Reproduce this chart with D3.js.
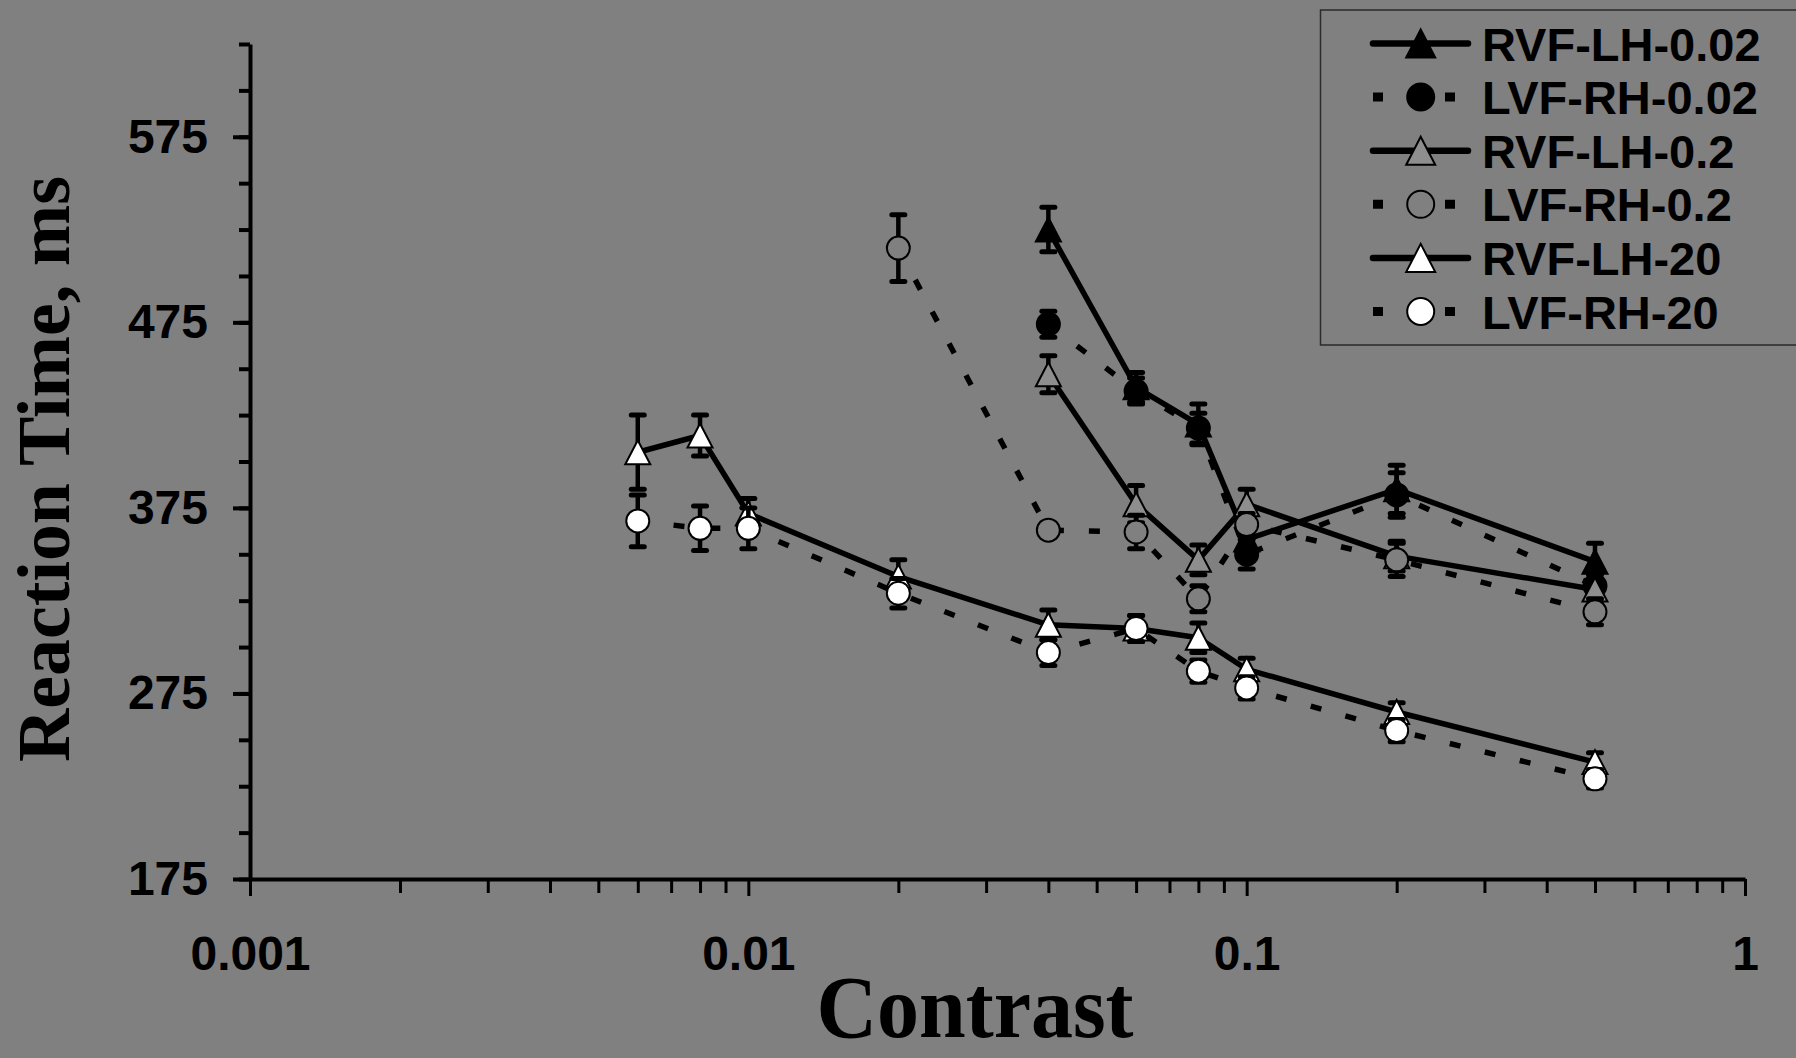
<!DOCTYPE html>
<html>
<head>
<meta charset="utf-8">
<script src="https://cdn.jsdelivr.net/npm/d3@7"></script>
<style>
  body { margin: 0; background: #808080; }
  svg { display: block; }
</style>
</head>
<body>
<div id="chart"></div>
<script>
// Contrast levels tested for each spatial frequency
const contrast20 = [0.006, 0.008, 0.01, 0.02, 0.04, 0.06, 0.08, 0.1, 0.2, 0.5];
const contrastLvf02 = [0.02, 0.04, 0.06, 0.08, 0.1, 0.2, 0.5];
const contrast002 = [0.04, 0.06, 0.08, 0.1, 0.2, 0.5];

// Mean reaction times (ms) and error bar half-widths
const rvf002 = [525, 440, 420, 358, 385, 346];
const rvf002Err = [12, 8, 11, 8, 13, 10];
const lvf002 = [474, 438, 418, 350, 382, 333];
const lvf002Err = [7, 7, 8, 8, 12, 8];
const rvf02 = [447, 377, 347, 377, 349, 331];
const rvf02Err = [10, 10, 8, 8, 8, 8];
const lvf02 = [515, 363, 362, 326, 366, 347, 319];
const lvf02Err = [18, 4, 9, 7, 6, 9, 7];
const rvf20 = [405, 414, 372, 338, 312, 310, 305, 288, 265, 238];
const rvf20Err = [20, 11, 8, 9, 8, 7, 8, 6, 5, 5];
const lvf20 = [368, 364, 364, 329, 297, 310, 287, 278, 255, 229];
const lvf20Err = [14, 12, 11, 8, 7, 7, 6, 6, 6, 5];

const seriesNames = ["RVF-LH-0.02", "LVF-RH-0.02", "RVF-LH-0.2", "LVF-RH-0.2", "RVF-LH-20", "LVF-RH-20"];
const xTickLabels = ["0.001", "0.01", "0.1", "1"];
const yTickValues = [175, 275, 375, 475, 575];

const series = [
    { name: seriesNames[0], xs: contrast002, ys: rvf002, err: rvf002Err, shape: "triangle", fill: "#000", dashed: false },
    { name: seriesNames[1], xs: contrast002, ys: lvf002, err: lvf002Err, shape: "circle", fill: "#000", dashed: true },
    { name: seriesNames[2], xs: contrast002, ys: rvf02, err: rvf02Err, shape: "triangle", fill: "#8e8e8e", dashed: false },
    { name: seriesNames[3], xs: contrastLvf02, ys: lvf02, err: lvf02Err, shape: "circle", fill: "#808080", dashed: true },
    { name: seriesNames[4], xs: contrast20, ys: rvf20, err: rvf20Err, shape: "triangle", fill: "#fff", dashed: false },
    { name: seriesNames[5], xs: contrast20, ys: lvf20, err: lvf20Err, shape: "circle", fill: "#fff", dashed: true }
];

const width = 1796, height = 1058;

const svg = d3.select("#chart")
    .append("svg")
    .attr("width", width)
    .attr("height", height);

svg.append("rect")
    .attr("width", width)
    .attr("height", height)
    .attr("fill", "#808080");

// Scales
const x = d3.scaleLog()
    .domain([0.001, 1])
    .range([250, 1745]);

const y = d3.scaleLinear()
    .domain([175, 625])
    .range([879, 44]);

const tickFont = "'Liberation Sans', Arial, sans-serif";

// Y axis: minor ticks every 25, labelled majors every 100
svg.append("g")
    .attr("transform", `translate(${x.range()[0]},0)`)
    .call(d3.axisLeft(y).tickValues(d3.range(175, 626, 25)).tickSize(11).tickSizeOuter(0).tickFormat(""))
    .call(g => g.select(".domain").attr("stroke", "#000").attr("stroke-width", 4))
    .call(g => g.selectAll(".tick line").attr("stroke", "#000").attr("stroke-width", 4));

svg.append("g")
    .attr("transform", `translate(${x.range()[0]},0)`)
    .call(d3.axisLeft(y).tickValues(yTickValues).tickSize(17).tickSizeOuter(0).tickPadding(25))
    .call(g => g.select(".domain").remove())
    .call(g => g.selectAll(".tick line").attr("stroke", "#000").attr("stroke-width", 4))
    .call(g => g.selectAll(".tick text")
        .attr("fill", "#000")
        .style("font-family", tickFont)
        .style("font-weight", "bold")
        .style("font-size", "48px"));

// X axis: log decades with minor ticks at 2..9
const minorX = [];
[0.001, 0.01, 0.1].forEach(d => {
    for (let k = 2; k <= 9; k++) minorX.push(d * k);
});

svg.append("g")
    .attr("transform", `translate(0,${y.range()[0]})`)
    .call(d3.axisBottom(x).tickValues(minorX).tickSize(14).tickSizeOuter(0).tickFormat(""))
    .call(g => g.select(".domain").remove())
    .call(g => g.selectAll(".tick line").attr("stroke", "#000").attr("stroke-width", 3));

svg.append("g")
    .attr("transform", `translate(0,${y.range()[0]})`)
    .call(d3.axisBottom(x).tickValues([0.001, 0.01, 0.1, 1]).tickSize(17).tickSizeOuter(0).tickPadding(40)
        .tickFormat((d, i) => xTickLabels[i]))
    .call(g => g.select(".domain").attr("stroke", "#000").attr("stroke-width", 4))
    .call(g => g.selectAll(".tick line").attr("stroke", "#000").attr("stroke-width", 3))
    .call(g => g.selectAll(".tick text")
        .attr("fill", "#000")
        .style("font-family", tickFont)
        .style("font-weight", "bold")
        .style("font-size", "48px"));

// Axis titles
svg.append("text")
    .attr("transform", "translate(69,469) rotate(-90)")
    .attr("text-anchor", "middle")
    .attr("textLength", 586)
    .attr("lengthAdjust", "spacingAndGlyphs")
    .style("font-family", "'Liberation Serif', 'Times New Roman', serif")
    .style("font-weight", "bold")
    .style("font-size", "75px")
    .text("Reaction Time, ms");

svg.append("text")
    .attr("x", 975)
    .attr("y", 1037)
    .attr("text-anchor", "middle")
    .attr("textLength", 317)
    .attr("lengthAdjust", "spacingAndGlyphs")
    .style("font-family", "'Liberation Serif', 'Times New Roman', serif")
    .style("font-weight", "bold")
    .style("font-size", "88px")
    .text("Contrast");

// Marker path helpers
function trianglePath(cx, cy, w, h) {
    return `M${cx},${cy - h / 2}L${cx + w / 2},${cy + h / 2}L${cx - w / 2},${cy + h / 2}Z`;
}

function drawMarker(g, shape, cx, cy, fill, big) {
    if (shape === "triangle") {
        g.append("path")
            .attr("d", big ? trianglePath(cx, cy, 29, 28) : trianglePath(cx, cy, 25, 24))
            .attr("fill", fill)
            .attr("stroke", "#000")
            .attr("stroke-width", 2)
            .attr("stroke-linejoin", "miter");
    } else {
        g.append("circle")
            .attr("cx", cx)
            .attr("cy", cy)
            .attr("r", big ? 13.5 : 11.5)
            .attr("fill", fill)
            .attr("stroke", "#000")
            .attr("stroke-width", 2);
    }
}

const line = d3.line()
    .x(d => x(d.c))
    .y(d => y(d.v));

// Series: line, error bars, then markers
series.forEach(s => {
    const pts = s.xs.map((c, i) => ({ c: c, v: s.ys[i], e: s.err[i] }));
    const g = svg.append("g");

    g.append("path")
        .datum(pts)
        .attr("fill", "none")
        .attr("stroke", "#000")
        .attr("stroke-width", 5.5)
        .attr("stroke-dasharray", s.dashed ? "11,25" : null)
        .attr("stroke-linejoin", "round")
        .attr("d", line);

    const eb = g.selectAll(".err")
        .data(pts)
        .enter()
        .append("g");

    eb.append("line")
        .attr("x1", d => x(d.c))
        .attr("x2", d => x(d.c))
        .attr("y1", d => y(d.v + d.e))
        .attr("y2", d => y(d.v - d.e))
        .attr("stroke", "#000")
        .attr("stroke-width", 4.5);

    [1, -1].forEach(sign => {
        eb.append("line")
            .attr("x1", d => x(d.c) - 6.5)
            .attr("x2", d => x(d.c) + 6.5)
            .attr("y1", d => y(d.v + sign * d.e))
            .attr("y2", d => y(d.v + sign * d.e))
            .attr("stroke", "#000")
            .attr("stroke-width", 5)
            .attr("stroke-linecap", "round");
    });

    pts.forEach(d => drawMarker(g, s.shape, x(d.c), y(d.v), s.fill, false));
});

// Legend
const legend = svg.append("g");

legend.append("rect")
    .attr("x", 1320.5)
    .attr("y", 10)
    .attr("width", 520)
    .attr("height", 335)
    .attr("fill", "none")
    .attr("stroke", "#2a2a2a")
    .attr("stroke-width", 1.5);

series.forEach((s, i) => {
    const ry = 43.5 + i * 53.6;
    legend.append("line")
        .attr("x1", 1373)
        .attr("x2", 1468)
        .attr("y1", ry)
        .attr("y2", ry)
        .attr("stroke", "#000")
        .attr("stroke-width", s.dashed ? 9 : 6.5)
        .attr("stroke-dasharray", s.dashed ? "10,26" : null)
        .attr("stroke-linecap", s.dashed ? "butt" : "round");

    drawMarker(legend, s.shape, 1420.7, ry, s.fill, true);

    legend.append("text")
        .attr("x", 1482)
        .attr("y", ry + 17)
        .style("font-family", tickFont)
        .style("font-weight", "bold")
        .style("font-size", "47px")
        .text(s.name);
});
</script>
</body>
</html>
